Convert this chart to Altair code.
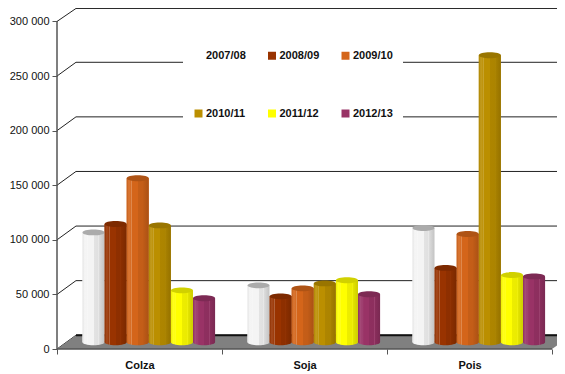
import altair as alt
import pandas as pd

categories = ["Colza", "Soja", "Pois"]
series = ["2007/08", "2008/09", "2009/10", "2010/11", "2011/12", "2012/13"]
colors = ["#FFFFFF", "#993300", "#D4651A", "#BB8F00", "#FFFF00", "#993366"]
values = {
    "2007/08": [100700, 52200, 104700],
    "2008/09": [108300, 42100, 68200],
    "2009/10": [150200, 49450, 99200],
    "2010/11": [107100, 54000, 263000],
    "2011/12": [47600, 56800, 61600],
    "2012/13": [40300, 44000, 60400],
}
y_ticks = [0, 50000, 100000, 150000, 200000, 250000, 300000]

W, H = 500, 340
X_MAX = 500 / 165
Y_MAX = 311400
DX, DY = 0.115, 12600
BASE = 6100
HALF = 0.0667
STEP = 0.134
START = 0.2212


def mix(hex_color, f):
    rgb = [int(hex_color[i:i + 2], 16) for i in (1, 3, 5)]
    if f <= 1:
        out = [c * f for c in rgb]
    else:
        out = [c + (255 - c) * (f - 1) for c in rgb]
    return "#%02x%02x%02x" % tuple(int(round(c)) for c in out)


def gradient(c):
    stops = [(0, .93), (.1, 1.12), (.2, 1.03), (.22, 1.25), (.25, 1.0), (.5, 1.0),
             (.52, .93), (.72, .92), (.74, 1.12), (.76, .9), (1, .8)]
    return alt.Gradient(
        gradient="linear", x1=0, x2=1, y1=0, y2=0,
        stops=[alt.GradientStop(offset=o, color=mix(c, f)) for o, f in stops],
    )


rows = []
for j, s in enumerate(series):
    for i, cat in enumerate(categories):
        cx = i + START + j * STEP
        rows.append(dict(series=s, cat=cat, cx=cx, x0=cx - HALF, x1=cx + HALF,
                         base=BASE, top=values[s][i] + BASE))
bars = pd.DataFrame(rows)

grid = pd.DataFrame([dict(v=v, back=min(v + DY, Y_MAX + 500), xd=DX, xe=X_MAX, x0=0.0) for v in y_ticks])
edge = (X_MAX - 3.0) / DX * DY
floor = pd.DataFrame([
    dict(x=0.0, lo=0, hi=0), dict(x=DX, lo=0, hi=DY),
    dict(x=3.0, lo=0, hi=DY), dict(x=X_MAX, lo=edge, hi=DY),
])

x_scale = alt.Scale(domain=[0, X_MAX], nice=False, zero=False)
y_scale = alt.Scale(domain=[0, Y_MAX], nice=False)
X = lambda f: alt.X(f, type="quantitative", scale=x_scale)
Y = lambda f: alt.Y(f, type="quantitative", scale=y_scale)

line = "#222222"
axis_grey = "#555555"

back = alt.Chart(grid).mark_rule(color=line, strokeWidth=1).encode(
    x=alt.X("xd:Q", scale=x_scale, title=None, axis=alt.Axis(
        values=[0, .5, 1, 1.5, 2, 2.5, 3], domain=False, grid=False,
        tickColor=axis_grey, tickWidth=1, tickSize=5,
        tickOpacity=alt.ConditionalAxisNumber(
            condition=alt.ConditionalPredicateValueDefnumberExprRef(test="datum.value % 1 === 0", value=1),
            value=0),
        labelExpr="datum.value === 0.5 ? 'Colza' : datum.value === 1.5 ? 'Soja' : datum.value === 2.5 ? 'Pois' : ''",
        labelFont="Liberation Sans", labelFontWeight="bold", labelFontSize=11,
        labelColor="#111111", labelPadding=5, labelOverlap=False, labelFlush=False,
    )),
    x2="xe:Q",
    y=alt.Y("back:Q", scale=y_scale, title=None, axis=alt.Axis(
        values=y_ticks, domain=False, grid=False, tickColor=axis_grey, tickWidth=1, tickSize=5,
        labelExpr="replace(format(datum.value, ',d'), ',', ' ')",
        labelFont="Liberation Sans", labelFontSize=11, labelColor="#111111", labelPadding=3,
    )),
)
slants = alt.Chart(grid).mark_rule(color=line, strokeWidth=1).encode(
    x=X("x0"), x2="xd:Q", y=Y("v"), y2="back:Q",
)
floor_layer = alt.Chart(floor).mark_area(color="#808080", orient="vertical", interpolate="linear").encode(
    x=X("x"), y=Y("lo"), y2="hi:Q",
)
floor_back = alt.Chart(grid[grid.v == 0]).mark_rule(color="#111111", strokeWidth=2).encode(
    x=X("xd"), x2="xe:Q", y=Y("back"),
)
y_line = alt.Chart(pd.DataFrame({"a": [0], "b": [300000]})).mark_rule(color=axis_grey, strokeWidth=1.5).encode(
    x=alt.value(0), y=Y("a"), y2="b:Q",
)
x_line = alt.Chart(pd.DataFrame({"a": [0.0], "b": [3.0]})).mark_rule(color=axis_grey, strokeWidth=1.5).encode(
    x=X("a"), x2="b:Q", y=alt.value(H),
)

flat = alt.Chart(bars).mark_bar().encode(
    x=X("x0"), x2="x1:Q", y=Y("base"), y2="top:Q",
    color=alt.Color("series:N", scale=alt.Scale(domain=series, range=colors), legend=alt.Legend(
        orient="none", legendX=126, legendY=31, columns=3, title=None, padding=10,
        direction="horizontal",
        fillColor="white", symbolType="square", symbolSize=64, symbolStrokeWidth=0,
        labelFont="Liberation Sans", labelFontWeight="bold", labelFontSize=11,
        labelColor="#111111", labelOffset=2, columnPadding=20.5, rowPadding=46,
    )),
)

ellipse = "M-1,0A1,0.27,0,1,1,1,0A1,0.27,0,1,1,-1,0Z"
layers = [back, slants, floor_layer, floor_back, y_line, x_line, flat]
for s, c in zip(series, colors):
    d = bars[bars.series == s]
    g = gradient(c if c != "#FFFFFF" else "#F4F4F4")
    layers.append(alt.Chart(d).mark_point(shape=ellipse, filled=True, size=484, opacity=1, fill=g, stroke=None).encode(
        x=X("cx"), y=Y("base")))
    layers.append(alt.Chart(d).mark_bar(fill=g).encode(
        x=X("x0"), x2="x1:Q", y=Y("base"), y2="top:Q"))
    layers.append(alt.Chart(d).mark_point(shape=ellipse, filled=True, size=484, opacity=1, fill=mix(c if c != "#FFFFFF" else "#D0D0D0", .82), stroke=None).encode(
        x=X("cx"), y=Y("top")))

chart = alt.layer(*layers).properties(
    width=W, height=H,
    autosize=alt.AutoSizeParams(type="none"),
    padding={"left": 49, "top": 1, "right": 0, "bottom": 23},
).configure_view(stroke=None)

chart.save("out.html", embed_options={"renderer": "svg", "actions": False})
